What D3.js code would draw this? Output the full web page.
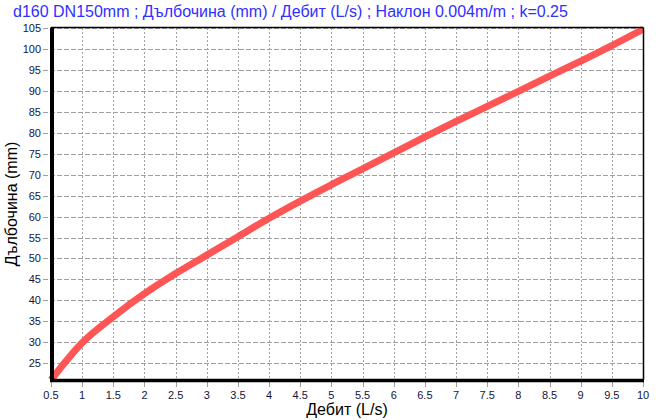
<!DOCTYPE html>
<html>
<head>
<meta charset="utf-8">
<script src="https://cdnjs.cloudflare.com/ajax/libs/d3/7.8.5/d3.min.js"></script>
<style>
    body { margin: 0; background: #fff; }
    text { font-family: Arial, "Liberation Sans", sans-serif; }
    .tick-label { font-size: 11px; fill: #14143c; }
    .axis-title { font-size: 16px; fill: #000; }
    .chart-title { font-size: 16px; fill: #3030ff; }
</style>
</head>
<body>
<svg id="chart" width="656" height="420"></svg>
<script>
// Data ////////////////////////////////////////////////////////////////

var flow = [0.5, 1, 1.5, 2, 2.5, 3, 3.5, 4, 4.5, 5, 5.5, 6, 6.5, 7, 7.5, 8, 8.5, 9, 9.5, 10];
var depth = [21, 29.9, 36.1, 41.6, 46.4, 50.8, 55.2, 59.6, 63.7, 67.6, 71.4, 75.2, 79.0, 82.7, 86.3, 89.9, 93.5, 97.1, 100.8, 104.7];

var xTicks = d3.range(0.5, 10.01, 0.5);
var yTicks = d3.range(25, 105.01, 5);

var titleText = "d160 DN150mm ; Дълбочина (mm) / Дебит (L/s) ; Наклон 0.004m/m ; k=0.25";
var xTitle = "Дебит (L/s)";
var yTitle = "Дълбочина (mm)";

// Chart ///////////////////////////////////////////////////////////////

// plot area (window.top is reserved, so no plain "top")
var plotLeft = 51, plotRight = 643, plotTop = 28, plotBottom = 380;

var scaleX = d3.scaleLinear().domain([0.5, 10]).range([plotLeft, plotRight]);
var scaleY = d3.scaleLinear().domain([21, 105]).range([plotBottom, plotTop]);

var svg = d3.select("#chart");

// Vertical grid (dotted)
svg.selectAll(".v-grid")
    .data(xTicks.slice(1))
    .enter()
    .append("line")
        .attr("x1", function(d) { return Math.round(scaleX(d)) + 0.5 })
        .attr("x2", function(d) { return Math.round(scaleX(d)) + 0.5 })
        .attr("y1", plotTop)
        .attr("y2", plotBottom)
        .attr("stroke", "#a0a0a0")
        .attr("stroke-dasharray", "2,2")
        .attr("class", "v-grid");

// Horizontal grid (dashed), also runs out as tick marks left of the axis
svg.selectAll(".h-grid")
    .data(yTicks)
    .enter()
    .append("line")
        .attr("x1", plotLeft - 8)
        .attr("x2", plotRight)
        .attr("y1", function(d) { return Math.round(scaleY(d)) + 0.5 })
        .attr("y2", function(d) { return Math.round(scaleY(d)) + 0.5 })
        .attr("stroke", "#a0a0a0")
        .attr("stroke-dasharray", "5,2")
        .attr("class", "h-grid");

// x tick marks
svg.selectAll(".x-tick")
    .data(xTicks)
    .enter()
    .append("line")
        .attr("x1", function(d) { return Math.round(scaleX(d)) + 0.5 })
        .attr("x2", function(d) { return Math.round(scaleX(d)) + 0.5 })
        .attr("y1", plotBottom)
        .attr("y2", plotBottom + 7)
        .attr("stroke", "#a0a0a0");

// The curve
var line = d3.line()
    .x(function(d, i) { return scaleX(flow[i]) })
    .y(function(d) { return scaleY(d) })
    .curve(d3.curveMonotoneX);

svg.append("path")
    .datum(depth)
    .attr("d", line)
    .attr("fill", "none")
    .attr("stroke", "#ff5555")
    .attr("stroke-width", 7)
    .attr("stroke-linejoin", "round");

// Frame: thin top/right, thick left/bottom
svg.append("line")
    .attr("x1", plotLeft).attr("x2", plotRight + 0.5)
    .attr("y1", plotTop - 0.5).attr("y2", plotTop - 0.5)
    .attr("stroke", "#000").attr("stroke-width", 1.5);
svg.append("line")
    .attr("x1", plotRight + 0.5).attr("x2", plotRight + 0.5)
    .attr("y1", plotTop - 0.5).attr("y2", plotBottom)
    .attr("stroke", "#000").attr("stroke-width", 1.5);
svg.append("line")
    .attr("x1", plotLeft + 1).attr("x2", plotLeft + 1)
    .attr("y1", plotTop - 0.5).attr("y2", plotBottom + 2)
    .attr("stroke", "#000").attr("stroke-width", 4);
svg.append("line")
    .attr("x1", plotLeft - 1).attr("x2", plotRight + 1)
    .attr("y1", plotBottom + 0.5).attr("y2", plotBottom + 0.5)
    .attr("stroke", "#000").attr("stroke-width", 3.5);

// Tick labels
svg.selectAll(".y-label")
    .data(yTicks)
    .enter()
    .append("text")
        .text(function(d) { return d })
        .attr("x", 41)
        .attr("y", function(d) { return scaleY(d) + 4 })
        .attr("text-anchor", "end")
        .attr("class", "tick-label");

svg.selectAll(".x-label")
    .data(xTicks)
    .enter()
    .append("text")
        .text(function(d) { return d })
        .attr("x", function(d) { return scaleX(d) })
        .attr("y", 399)
        .attr("text-anchor", "middle")
        .attr("class", "tick-label");

// Titles
svg.append("text")
    .text(titleText)
    .attr("x", 13)
    .attr("y", 17)
    .attr("class", "chart-title");

svg.append("text")
    .text(xTitle)
    .attr("x", (plotLeft + plotRight) / 2)
    .attr("y", 415)
    .attr("text-anchor", "middle")
    .attr("class", "axis-title");

svg.append("text")
    .text(yTitle)
    .attr("transform", "translate(17," + ((plotTop + plotBottom) / 2) + ") rotate(-90)")
    .attr("text-anchor", "middle")
    .attr("class", "axis-title");
</script>
</body>
</html>
